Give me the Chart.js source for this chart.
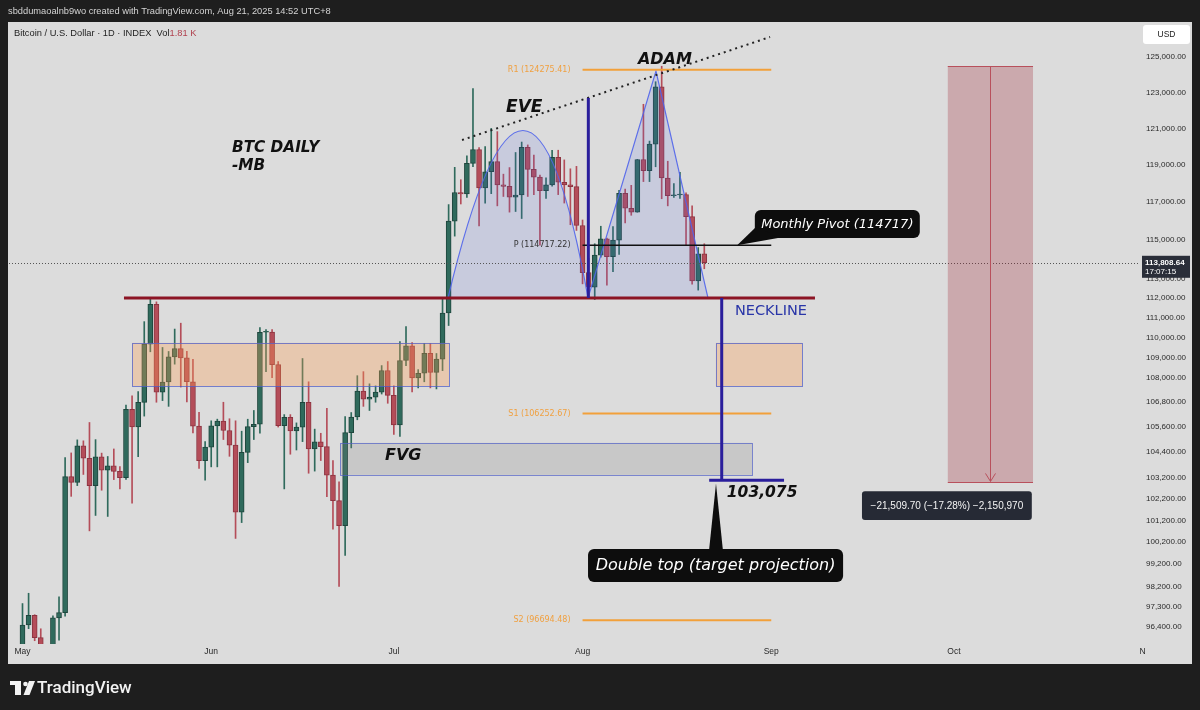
<!DOCTYPE html>
<html><head><meta charset="utf-8">
<style>html,body{margin:0;padding:0;background:#1e1e1e;overflow:hidden}canvas{display:block}</style>
<script src="https://cdn.jsdelivr.net/npm/chart.js@4.4.1/dist/chart.umd.min.js"></script>
</head><body>
<canvas id="c" width="1200" height="710"></canvas>
<script>
// ---------------- DATA ----------------
const candleDates = [
'05-01','05-02','05-03','05-04','05-05','05-06','05-07','05-08','05-09','05-10','05-11','05-12','05-13','05-14','05-15','05-16','05-17','05-18','05-19','05-20','05-21','05-22','05-23','05-24','05-25','05-26','05-27','05-28','05-29','05-30','05-31',
'06-01','06-02','06-03','06-04','06-05','06-06','06-07','06-08','06-09','06-10','06-11','06-12','06-13','06-14','06-15','06-16','06-17','06-18','06-19','06-20','06-21','06-22','06-23','06-24','06-25','06-26','06-27','06-28','06-29','06-30',
'07-01','07-02','07-03','07-04','07-05','07-06','07-07','07-08','07-09','07-10','07-11','07-12','07-13','07-14','07-15','07-16','07-17','07-18','07-19','07-20','07-21','07-22','07-23','07-24','07-25','07-26','07-27','07-28','07-29','07-30','07-31',
'08-01','08-02','08-03','08-04','08-05','08-06','08-07','08-08','08-09','08-10','08-11','08-12','08-13','08-14','08-15','08-16','08-17','08-18','08-19','08-20','08-21'];
const opens = [
94172,96489,96910,95936,94315,94748,96802,97032,103241,102971,104697,104107,102812,104170,103539,103744,103489,103191,106455,105606,106792,109667,111674,107287,107791,109035,109440,108985,107802,105641,103998,
104638,105652,105882,105432,104732,101576,104388,105616,105734,110263,110275,108645,105671,106066,105414,105595,106794,104551,104886,104658,103310,102120,100963,105333,106084,107340,106947,107047,107296,108356,
107135,105698,108850,109584,107985,108222,109204,108262,108922,111234,115987,117516,117435,119086,119841,117758,118630,119177,117924,117840,117265,117380,119954,118756,118340,117614,117919,119415,118062,117922,117831,
115758,113298,112547,114209,115055,114129,114992,117472,116674,116462,119295,118686,120134,123306,118295,117342,117380,117405,116227,112872,114271];
const highs = [
97437,97895,96943,96323,95199,96889,97732,104145,104361,104984,104938,105819,104996,104352,104192,104550,103716,106660,107108,107320,110797,111980,111800,109500,109300,110422,110718,109310,108910,106313,104900,
105900,105980,106800,106000,105900,105400,105977,106400,110500,110400,110400,108800,106200,106200,105800,108950,107800,105500,105300,106500,104000,103000,106100,106300,108100,108300,107700,107600,108600,108800,
107600,109800,110550,109750,108400,109700,109700,109200,111999,116868,118869,118200,119488,123218,119940,120000,120998,120820,118500,118856,119676,120247,120090,119535,118450,118300,119800,119800,119273,118790,118922,
116050,114050,114800,115720,115100,115700,117630,117700,117900,119300,122335,120300,123600,124474,119200,117999,118600,117500,116800,114600,114800];
const lows = [
94127,96328,95800,94150,93514,93377,95829,96876,102316,102818,103342,100719,101429,102602,101383,103100,102659,103105,102000,104188,106127,109285,106800,106880,106600,108670,107543,106812,105322,103621,103068,
103700,103700,105000,104200,100372,101100,103900,105000,105300,108300,108000,105600,102664,104300,104500,104900,103400,103500,104000,102300,100800,98200,99600,104600,105950,106600,106400,106800,107200,106750,
105250,105150,108600,107300,107500,107800,107500,107450,108350,110600,115200,116900,117250,118900,115736,116950,117450,116800,117300,116467,116500,116128,117301,117400,114723,117200,117850,117400,116950,115800,115500,
112722,112000,111920,114100,112650,113350,114250,115900,116300,116462,118100,118100,118900,117180,116800,117250,117200,114700,112700,112400,113500];
const closes = [
96489,96910,95936,94315,94748,96802,97032,103241,102971,104697,104107,102812,104170,103539,103744,103489,103191,106455,105606,106792,109667,111674,107287,107791,109035,109440,108985,107802,105641,103998,104638,
105652,105882,105432,104732,101576,104388,105616,105734,110263,110275,108645,105671,106066,105414,105595,106794,104551,104886,104658,103310,102120,100963,105333,106084,107340,106947,107047,107296,108356,107135,
105698,108850,109584,107985,108222,109204,108262,108922,111234,115987,117516,117435,119086,119841,117758,118630,119177,117924,117840,117265,117380,119954,118756,118340,117614,117919,119415,118062,117922,117831,115758,
113298,112547,114209,115055,114129,114992,117472,116674,116462,119295,118686,120134,123306,118295,117342,117380,117405,116227,112872,114271,113808.64];

const monthStarts = ['05-01','06-01','07-01','08-01','09-01','10-01','11-01'];
const monthLabels = ['May','Jun','Jul','Aug','Sep','Oct','N'];
const priceTicks = [125000,123000,121000,119000,117000,115000,113000,112000,111000,110000,109000,108000,106800,105600,104400,103200,102200,101200,100200,99200,98200,97300,96400];

const lastPrice = 113808.64;
const lastTime = '17:07:15';
const necklinePrice = 112000;
const pivotLevels = [['R1',124275.41],['P',114717.22],['S1',106252.67],['S2',96694.48]];
const targetPrice = 103075;
const zonePrices = [109730, 107590];
const fvgPrices = [104840, 103320];
const measureFrom = 124477, measureTo = 102967;
const measureText = '\u221221,509.70 (\u221217.28%) \u22122,150,970';

// ---------------- helpers ----------------
const dayOf = s => { const [m,d] = s.split('-').map(Number); return (Date.UTC(2025,m-1,d)-Date.UTC(2025,4,1))/86400000; };
const xs = candleDates.map(dayOf);
const UP = '#2f6a5c', UPB = '#1f463d', DN = '#b44d59', DNB = '#8c3441';
const cols = closes.map((c,i)=> c>=opens[i] ? UP : DN);
const bcols = closes.map((c,i)=> c>=opens[i] ? UPB : DNB);

const wickData = xs.map((x,i)=>({x, y:[lows[i], highs[i]]}));
const bodyData = xs.map((x,i)=>({x, y:[opens[i], closes[i]]}));

// ---------------- annotation plugin ----------------
const tv = {
  id:'tv',
  beforeDraw(chart){
    const c = chart.ctx; c.save();
    c.fillStyle='#1e1e1e'; c.fillRect(0,0,1200,710);
    c.fillStyle='#dcdcdc'; c.fillRect(8,22,1184,642);
    c.fillStyle='#d4d4d4'; c.font='9.3px "Liberation Sans", Arial'; c.textBaseline='middle'; c.textAlign='left';
    c.fillText('sbddumaoalnb9wo created with TradingView.com, Aug 21, 2025 14:52 UTC+8', 8, 11);
    c.restore();
  },
  afterDatasetsDraw(chart){
    const c = chart.ctx, a = chart.chartArea;
    const X = v => chart.scales.x.getPixelForValue(v);
    const Y = v => chart.scales.y.getPixelForValue(v);
    c.save();
    c.beginPath(); c.rect(a.left, a.top, a.right-a.left, a.bottom-a.top); c.clip();

    // zones
    const box = (d0,d1,p0,p1,fill,stroke)=>{
      const x0=X(d0), x1=X(d1), y0=Y(p0), y1=Y(p1);
      c.fillStyle=fill; c.fillRect(x0,y0,x1-x0,y1-y0);
      c.strokeStyle=stroke; c.lineWidth=1; c.strokeRect(Math.round(x0)+.5,Math.round(y0)+.5,Math.round(x1-x0),Math.round(y1-y0));
    };
    box(18.0,70.06,zonePrices[0],zonePrices[1],'rgba(255,160,80,0.32)','rgba(80,95,200,0.75)');
    box(113.9,128.05,zonePrices[0],zonePrices[1],'rgba(255,160,80,0.32)','rgba(80,95,200,0.75)');
    box(52.16,119.84,fvgPrices[0],fvgPrices[1],'rgba(130,130,130,0.22)','rgba(80,95,200,0.7)');

    // EVE arch
    c.beginPath();
    c.moveTo(X(69.9),Y(necklinePrice));
    c.quadraticCurveTo(X(83.0),Y(130470),X(92.9),Y(necklinePrice));
    c.closePath();
    c.fillStyle='rgba(90,110,230,0.15)'; c.fill();
    c.strokeStyle='rgba(80,100,235,0.9)'; c.lineWidth=1.2; c.stroke();
    // ADAM peak
    c.beginPath();
    c.moveTo(X(92.9),Y(necklinePrice));
    c.lineTo(X(104.06),Y(124205));
    c.lineTo(X(112.6),Y(necklinePrice));
    c.closePath();
    c.fillStyle='rgba(90,110,230,0.15)'; c.fill();
    c.strokeStyle='rgba(80,100,235,0.9)'; c.stroke();

    // pivots
    const pv0 = dayOf('08-01'), pv1 = dayOf('09-01');
    c.font='8px "DejaVu Sans"'; c.textAlign='right'; c.textBaseline='middle';
    pivotLevels.forEach(([n,v])=>{
      const y=Y(v);
      c.strokeStyle = n==='P' ? '#111' : '#f2a03a'; c.lineWidth = n==='P'?1.5:2;
      c.beginPath(); c.moveTo(X(pv0),y); c.lineTo(X(pv1),y); c.stroke();
      c.fillStyle = n==='P' ? '#333' : '#f0a040';
      c.fillText(n+' ('+v.toFixed(2)+')', X(pv0)-12, y);
    });

    // current price dotted
    c.strokeStyle='#555'; c.lineWidth=1; c.setLineDash([1,2]);
    c.beginPath(); c.moveTo(a.left,Math.round(Y(lastPrice))+.5); c.lineTo(a.right,Math.round(Y(lastPrice))+.5); c.stroke();
    c.setLineDash([]);

    // neckline
    c.strokeStyle='#8c1424'; c.lineWidth=3;
    c.beginPath(); c.moveTo(X(16.67),Y(necklinePrice)); c.lineTo(X(130.18),Y(necklinePrice)); c.stroke();

    // dotted trend line
    c.strokeStyle='#222'; c.lineWidth=2; c.setLineDash([2,4]);
    c.beginPath(); c.moveTo(X(72.2),Y(120360)); c.lineTo(X(122.8),Y(126144)); c.stroke();
    c.setLineDash([]);

    // purple measure lines
    c.strokeStyle='#2a1e9c'; c.lineWidth=3;
    c.beginPath(); c.moveTo(X(92.95),Y(122690)); c.lineTo(X(92.95),Y(necklinePrice)); c.stroke();
    c.beginPath(); c.moveTo(X(114.86),Y(necklinePrice)); c.lineTo(X(114.86),Y(targetPrice)); c.stroke();
    c.beginPath(); c.moveTo(X(112.8),Y(targetPrice)); c.lineTo(X(125.1),Y(targetPrice)); c.stroke();

    // right measurement box
    {
      const x0=X(152.0), x1=X(166.0), y0=Y(measureFrom), y1=Y(measureTo);
      c.fillStyle='rgba(160,40,55,0.28)'; c.fillRect(x0,y0,x1-x0,y1-y0);
      c.strokeStyle='#b8505c'; c.lineWidth=1;
      c.beginPath(); c.moveTo(x0,Math.round(y0)+.5); c.lineTo(x1,Math.round(y0)+.5);
      c.moveTo(x0,Math.round(y1)+.5); c.lineTo(x1,Math.round(y1)+.5); c.stroke();
      const xm=Math.round((x0+x1)/2)+.5;
      c.beginPath(); c.moveTo(xm,y0); c.lineTo(xm,y1-1);
      c.moveTo(xm-5,y1-9); c.lineTo(xm,y1-1); c.lineTo(xm+5,y1-9); c.stroke();
      // label
      const lx0=X(137.9), lx1=X(165.8), ly0=Y(102554), ly1=Y(101219);
      c.fillStyle='#262a35'; c.beginPath(); c.roundRect(lx0,ly0,lx1-lx0,ly1-ly0,3); c.fill();
      c.fillStyle='#f4f4f4'; c.font='10px "Liberation Sans", Arial'; c.textAlign='center'; c.textBaseline='middle';
      c.fillText(measureText,(lx0+lx1)/2,(ly0+ly1)/2+0.5);
    }

    // texts
    const txt=(s,d,p,font,color,align)=>{
      c.font=font; c.fillStyle=color; c.textAlign=align||'left'; c.textBaseline='middle';
      c.fillText(s,X(d),Y(p));
    };
    const BI='bold italic ', FF='"DejaVu Sans"';
    txt('BTC DAILY',34.41,119900,BI+'15.3px '+FF,'#111');
    txt('-MB',34.41,118950,BI+'15.3px '+FF,'#111');
    txt('EVE',79.43,122128,BI+'17px '+FF,'#111');
    txt('ADAM',101.1,124829,BI+'16px '+FF,'#111');
    txt('FVG',59.55,104215,BI+'16px '+FF,'#111');
    txt('103,075',115.7,102470,BI+'15.5px '+FF,'#111');
    txt('NECKLINE',117.04,111335,'14.5px '+FF,'#2a36a8');

    // callouts
    const callout=(d0,d1,p0,p1,tri,text,font)=>{
      const x0=X(d0),x1=X(d1),y0=Y(p0),y1=Y(p1);
      c.fillStyle='#0d0d0d';
      c.beginPath(); c.roundRect(x0,y0,x1-x0,y1-y0,6); c.fill();
      c.beginPath(); c.moveTo(X(tri[0][0]),Y(tri[0][1]));
      for(let k=1;k<tri.length;k++) c.lineTo(X(tri[k][0]),Y(tri[k][1]));
      c.closePath(); c.fill();
      c.fillStyle='#fff'; c.font=font; c.textAlign='center'; c.textBaseline='middle';
      c.fillText(text,(x0+x1)/2,(y0+y1)/2+0.5);
    };
    callout(120.3,147.4,116581,115101,[[120.66,115733],[117.4,114717],[124.1,115101]],'Monthly Pivot (114717)','italic 13px '+FF);
    callout(92.9,134.8,99893,98400,[[112.77,99802],[113.92,102920],[115.07,99802]],'Double top (target projection)','italic 16px '+FF);
    c.restore();
  },
  afterDraw(chart){
    const c=chart.ctx, Y=v=>chart.scales.y.getPixelForValue(v);
    c.save();
    // legend
    c.font='9.3px "Liberation Sans", Arial'; c.textBaseline='middle'; c.textAlign='left';
    const leg='Bitcoin / U.S. Dollar \u00b7 1D \u00b7 INDEX  Vol';
    c.fillStyle='#222'; c.fillText(leg,14,33);
    const w=c.measureText(leg).width;
    c.fillStyle='#b0414e'; c.fillText('1.81 K',14+w,33);
    // USD box
    c.fillStyle='#ffffff'; c.beginPath(); c.roundRect(1143,25,47,19,3); c.fill();
    c.fillStyle='#222'; c.font='8.5px "Liberation Sans", Arial'; c.textAlign='center'; c.fillText('USD',1166.5,35);
    // last price label
    const y=Y(lastPrice);
    c.fillStyle='#2a2e39'; c.fillRect(1142,y-7,48,22);
    c.fillStyle='#fff'; c.textAlign='left';
    c.font='bold 8px "Liberation Sans", Arial'; c.fillText(lastPrice.toLocaleString('en-US',{minimumFractionDigits:2}),1145,y);
    c.font='8px "Liberation Sans", Arial'; c.fillText(lastTime,1145,y+9);
    // bottom logo
    c.fillStyle='#f2f2f2';
    c.fillRect(10,681,11,4); c.fillRect(15,681,6,14);
    c.beginPath(); c.arc(25.5,684,2.3,0,Math.PI*2); c.fill();
    c.beginPath(); c.moveTo(29,681); c.lineTo(35,681); c.lineTo(29.5,695); c.lineTo(23.5,695); c.closePath(); c.fill();
    c.font='500 17px Roboto'; c.textBaseline='middle'; c.fillText('TradingView',37,688.5);
    c.restore();
  }
};

// ---------------- chart ----------------
const xMin = -2.2177, xMax = 183.573;
new Chart(document.getElementById('c'), {
  type:'bar',
  data:{ datasets:[
    { data: wickData, backgroundColor: cols, borderWidth:0, barThickness:1, grouped:false, order:2 },
    { data: bodyData, backgroundColor: cols, borderColor: bcols, borderWidth:1, borderSkipped:false, barThickness:5, grouped:false, minBarLength:1, order:1 }
  ]},
  options:{
    responsive:false, animation:false, devicePixelRatio:1, events:[],
    layout:{ padding:{ left:9, top:22, right:8, bottom:46 } },
    plugins:{ legend:{display:false}, tooltip:{enabled:false} },
    scales:{
      x:{ type:'linear', min:xMin, max:xMax, offset:false,
        grid:{display:false, drawTicks:false}, border:{display:false},
        afterBuildTicks: s => { s.ticks = monthStarts.map(m=>({value:dayOf(m)})); },
        afterFit: s => { s.height = 20; },
        ticks:{ autoSkip:false, maxRotation:0, padding:3, color:'#2a2a2a', font:{size:8.5, family:'"Liberation Sans", Arial'},
          callback:(v,i)=>monthLabels[i] } },
      y:{ type:'logarithmic', position:'right', min:95657, max:127010,
        grid:{display:false, drawTicks:false}, border:{display:false},
        afterBuildTicks: s => { s.ticks = priceTicks.map(v=>({value:v})); },
        afterFit: s => { s.width = 52; },
        ticks:{ autoSkip:false, padding:6, color:'#2a2a2a', font:{size:8, family:'"Liberation Sans", Arial'},
          callback: v => Number(v).toLocaleString('en-US',{minimumFractionDigits:2, maximumFractionDigits:2}) } }
    }
  },
  plugins:[tv]
});
</script>
</body></html>
